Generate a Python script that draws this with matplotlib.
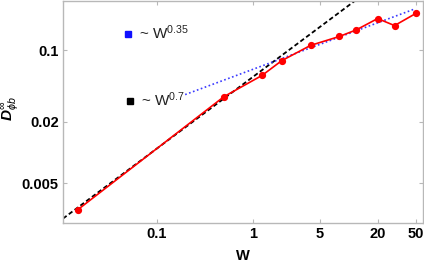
import matplotlib
matplotlib.use("Agg")
import matplotlib.pyplot as plt
import numpy as np
from matplotlib.ticker import FixedLocator, FixedFormatter, NullLocator

W = [0.015, 0.5, 1.25, 2.0, 4.0, 8.0, 12.0, 20.0, 30.0, 50.0]
D = [0.00277, 0.0353, 0.057, 0.0794, 0.112, 0.137, 0.159, 0.205, 0.175, 0.23]

fit07_C, fit07_exp = 0.0550, 0.7
fit035_C, fit035_exp = 0.0653, 0.35
fit07_range = [0.0105, 60]
fit035_range = [0.197, 49.4]

xticks = [0.1, 1, 5, 20, 50]
xticklabels = ["0.1", "1", "5", "20", "50"]
yticks = [0.005, 0.02, 0.1]
yticklabels = ["0.005", "0.02", "0.1"]

plt.rcParams['font.family'] = ['Liberation Sans', 'DejaVu Sans']
plt.rcParams['mathtext.fontset'] = 'custom'
plt.rcParams['mathtext.rm'] = 'Liberation Sans'
plt.rcParams['mathtext.it'] = 'Liberation Sans:italic'
plt.rcParams['mathtext.bf'] = 'Liberation Sans:bold'
plt.rcParams['mathtext.bfit'] = 'Liberation Sans:bold:italic'

fig = plt.figure(figsize=(4.24, 2.62), dpi=100)
ax = fig.add_axes([63/424, 1 - 223/262, (423-63)/424, 223/262 - 0.002])

x07 = np.geomspace(*fit07_range, 50)
ax.plot(x07, fit07_C * x07**fit07_exp, color='black', ls=(0, (2.5, 1.5)), lw=1.3, zorder=2)
x035 = np.geomspace(*fit035_range, 50)
ax.plot(x035, fit035_C * x035**fit035_exp, color='#3a3aff', ls=(0, (1, 1.5)), lw=1.2, zorder=2)
ax.plot(W, D, color='red', lw=1.2, marker='o', ms=4.2, zorder=3)

ax.set_xscale('log')
ax.set_yscale('log')
ax.set_xlim(0.0105, 59.4)
ax.set_ylim(0.00205, 0.3077)

ax.xaxis.set_major_locator(FixedLocator(xticks))
ax.xaxis.set_major_formatter(FixedFormatter(xticklabels))
ax.xaxis.set_minor_locator(NullLocator())
ax.yaxis.set_major_locator(FixedLocator(yticks))
ax.yaxis.set_major_formatter(FixedFormatter(yticklabels))
ax.yaxis.set_minor_locator(NullLocator())

for s in ax.spines.values():
    s.set_color('#b8b8b8')
    s.set_linewidth(1.0)
ax.tick_params(direction='in', length=3, color='#b8b8b8', top=True, right=True,
               labelsize=10.5, pad=3)
for lab in ax.get_xticklabels() + ax.get_yticklabels():
    lab.set_fontweight('bold')

fig.text(243/424, 1 - 256/262, 'W', fontsize=10.5, fontweight='bold', ha='center', va='center')
fig.text(11/424, 1 - 109/262, r'$\mathbfit{D}^{\infty}_{\phi b}$', fontsize=11,
         rotation=90, ha='center', va='center')

ax.plot([128/424], [1 - 34/262], 's', color='#1010ff', ms=5, transform=fig.transFigure, clip_on=False)
fig.text(139/424, 1 - 33/262, r'~ W$^{0.35}$', color='#222222', fontsize=11, ha='left', va='center')
ax.plot([130/424], [1 - 101/262], 's', color='black', ms=5, transform=fig.transFigure, clip_on=False)
fig.text(141/424, 1 - 100/262, r'~ W$^{0.7}$', color='#222222', fontsize=11, ha='left', va='center')

fig.savefig('out.png', dpi=100)
